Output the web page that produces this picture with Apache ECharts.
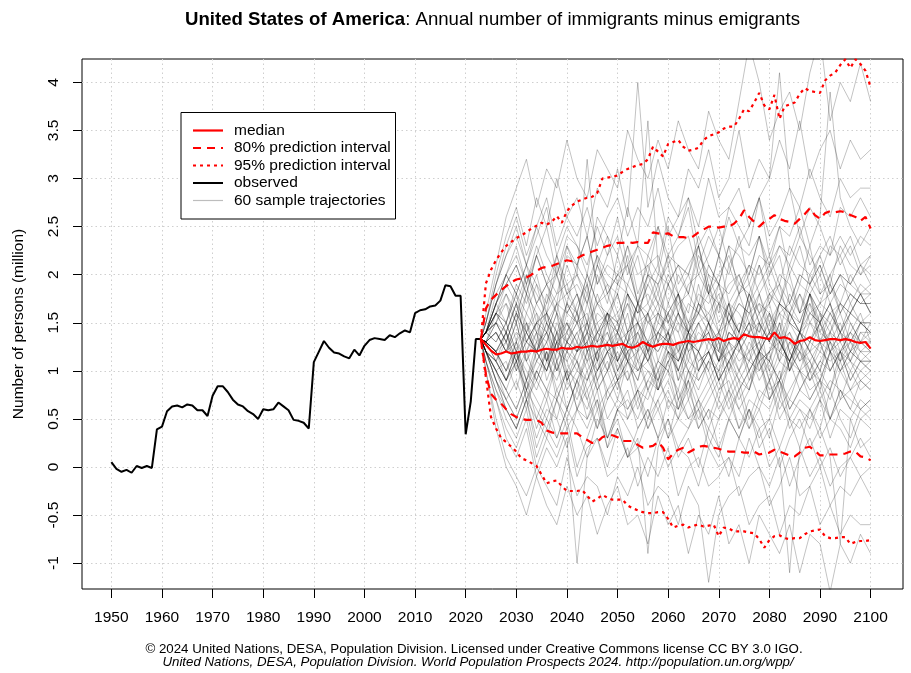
<!DOCTYPE html>
<html><head><meta charset="utf-8">
<script src="https://cdn.jsdelivr.net/npm/echarts@6/dist/echarts.min.js"></script>
<style>html,body{margin:0;padding:0;background:#fff}#c{width:911px;height:673px}</style>
</head><body><div id="c"></div>
<script>
// ---------- data ----------
const obsStartYear = 1950;
const observed = [0.05,-0.02,-0.05,-0.03,-0.06,0.01,-0.01,0.01,-0.01,0.39,
0.42,0.58,0.63,0.64,0.62,0.65,0.64,0.59,0.59,0.53,
0.74,0.84,0.84,0.78,0.70,0.65,0.63,0.58,0.55,0.50,
0.60,0.59,0.60,0.67,0.63,0.59,0.49,0.48,0.46,0.40,
1.09,1.20,1.31,1.24,1.19,1.18,1.15,1.13,1.22,1.16,
1.26,1.32,1.34,1.33,1.32,1.37,1.35,1.39,1.42,1.40,
1.60,1.63,1.64,1.67,1.68,1.73,1.89,1.88,1.78,1.78,
0.34,0.68,1.33,1.33];

const projStartYear = 2023;
const median = [1.33,1.27,1.21,1.17,1.18,1.20,1.18,1.19,1.20,1.20,
1.21,1.20,1.22,1.23,1.22,1.22,1.24,1.23,1.23,1.25,
1.24,1.25,1.26,1.25,1.26,1.27,1.26,1.27,1.28,1.25,
1.24,1.26,1.30,1.27,1.25,1.27,1.28,1.28,1.27,1.29,
1.30,1.31,1.30,1.31,1.32,1.33,1.32,1.34,1.31,1.33,
1.34,1.33,1.38,1.36,1.35,1.35,1.34,1.33,1.40,1.34,
1.35,1.33,1.28,1.31,1.32,1.35,1.32,1.31,1.32,1.33,
1.33,1.32,1.33,1.32,1.30,1.29,1.30,1.23];
const upper80 = [1.33,1.65,1.74,1.79,1.84,1.88,1.92,1.95,1.96,1.97,
2.00,2.04,2.07,2.08,2.09,2.11,2.13,2.15,2.14,2.17,
2.20,2.22,2.24,2.26,2.28,2.30,2.31,2.33,2.33,2.34,
2.33,2.34,2.33,2.33,2.44,2.43,2.42,2.43,2.40,2.39,
2.39,2.38,2.40,2.44,2.47,2.50,2.50,2.49,2.50,2.50,
2.53,2.58,2.67,2.60,2.55,2.50,2.55,2.58,2.62,2.58,
2.56,2.55,2.53,2.58,2.63,2.69,2.62,2.58,2.64,2.66,
2.65,2.66,2.65,2.62,2.60,2.56,2.60,2.48];
const lower80 = [1.33,0.96,0.76,0.70,0.66,0.60,0.55,0.52,0.50,0.49,
0.49,0.49,0.46,0.38,0.36,0.35,0.35,0.35,0.35,0.35,
0.31,0.28,0.25,0.26,0.31,0.33,0.33,0.31,0.27,0.27,
0.27,0.23,0.20,0.21,0.22,0.26,0.20,0.08,0.14,0.18,
0.20,0.15,0.18,0.21,0.22,0.21,0.20,0.19,0.17,0.16,
0.16,0.16,0.15,0.15,0.16,0.13,0.14,0.15,0.18,0.16,
0.14,0.12,0.11,0.15,0.20,0.21,0.17,0.12,0.12,0.13,
0.13,0.13,0.14,0.16,0.16,0.11,0.10,0.07];
const upper95 = [1.33,1.91,2.05,2.15,2.23,2.30,2.34,2.38,2.41,2.44,
2.48,2.51,2.54,2.52,2.55,2.61,2.54,2.66,2.72,2.76,
2.78,2.80,2.81,2.85,3.00,3.01,3.02,3.03,3.07,3.10,
3.12,3.14,3.15,3.20,3.33,3.28,3.23,3.36,3.38,3.40,
3.33,3.29,3.30,3.32,3.40,3.44,3.46,3.48,3.52,3.54,
3.54,3.62,3.72,3.70,3.79,3.89,3.76,3.72,3.87,3.62,
3.75,3.77,3.79,3.88,3.94,3.91,3.90,3.89,4.02,4.07,
4.10,4.18,4.24,4.15,4.24,4.19,4.12,3.95];
const lower95 = [1.33,0.93,0.52,0.40,0.30,0.26,0.21,0.16,0.09,0.07,
0.04,0.01,-0.08,-0.17,-0.15,-0.14,-0.20,-0.25,-0.25,-0.25,
-0.24,-0.30,-0.36,-0.33,-0.29,-0.32,-0.34,-0.34,-0.34,-0.40,
-0.43,-0.45,-0.47,-0.48,-0.48,-0.47,-0.47,-0.54,-0.63,-0.61,
-0.60,-0.63,-0.61,-0.60,-0.62,-0.61,-0.60,-0.72,-0.63,-0.64,
-0.67,-0.67,-0.67,-0.68,-0.69,-0.75,-0.84,-0.76,-0.72,-0.71,
-0.74,-0.75,-0.74,-0.74,-0.70,-0.67,-0.66,-0.65,-0.72,-0.74,
-0.74,-0.73,-0.73,-0.80,-0.78,-0.77,-0.77,-0.76];

// sample trajectories (estimated), every 2nd year, in units of 0.1 million
const trajYears = [2024,2026,2028,2030,2032,2034,2036,2038,2040,2042,2044,2046,2048,2050,2052,2054,2056,2058,2060,2062,2064,2066,2068,2070,2072,2074,2076,2078,2080,2082,2084,2086,2088,2090,2092,2094,2096,2098,2100];
const trajectoriesTenths = [
[13,12,14,10,15,11,13,16,9,12,14,11,15,10,13,12,16,11,14,9,13,15,12,10,14,13,17,11,12,15,10,14,13,16,12,11,15,13,14],
[14,15,17,13,18,14,16,12,17,15,19,13,16,14,18,12,15,17,13,16,14,19,15,12,16,14,17,13,15,11,16,14,18,13,15,12,14,16,13],
[12,11,9,12,7,10,8,11,6,9,12,8,10,7,11,9,13,8,10,6,9,12,10,7,11,9,8,12,10,7,11,13,9,10,8,12,9,11,10],
[14,16,18,15,20,17,19,16,21,18,15,20,17,22,18,16,19,21,17,20,18,23,19,16,21,18,20,24,19,17,21,19,23,18,20,22,19,21,20],
[12,9,7,5,8,4,7,3,6,9,5,7,2,6,8,4,6,3,7,5,9,4,6,2,5,8,4,6,3,7,5,2,6,4,8,5,3,6,5],
[13,14,12,15,11,14,13,16,12,14,15,11,16,13,14,17,12,15,14,16,13,17,15,12,16,14,18,15,13,17,16,14,18,15,17,13,16,18,16],
[13,12,10,13,9,12,10,14,11,8,12,10,13,9,11,12,8,11,10,13,7,10,12,9,11,8,10,12,7,9,11,8,10,9,12,7,10,8,9],
[14,17,19,21,18,22,19,17,23,20,32,21,24,19,21,17,22,20,25,19,21,23,18,22,20,24,19,22,21,25,20,23,19,22,24,21,23,20,22],
[11,8,5,3,6,1,4,2,5,0,3,6,2,4,1,3,-9,2,5,1,3,0,4,2,-1,3,1,4,0,2,-2,1,3,0,2,-1,1,3,1],
[14,13,15,12,16,14,11,15,13,16,12,14,15,11,13,14,12,16,13,11,14,12,15,13,10,14,12,13,11,15,12,10,13,12,14,11,13,12,12],
[13,15,14,17,15,13,18,16,14,17,19,15,16,18,14,17,16,19,15,17,18,16,20,17,15,18,19,16,18,17,20,16,19,17,18,20,17,19,18],
[12,10,8,11,7,9,12,8,10,6,9,11,8,10,12,7,9,11,10,8,12,9,11,13,8,10,12,9,11,14,10,12,9,11,13,10,12,11,11],
[15,19,22,25,21,24,27,22,25,23,20,26,24,22,27,23,36,21,26,24,28,23,25,22,27,25,23,28,24,26,29,24,27,25,22,27,26,28,26],
[13,11,14,12,9,13,11,14,10,12,13,9,12,11,14,10,12,8,11,13,10,12,9,11,13,10,8,12,11,9,12,10,11,8,12,10,11,9,10],
[13,12,9,11,8,12,10,13,9,11,7,10,12,9,13,11,10,8,12,11,14,10,12,9,13,11,12,15,10,13,11,14,12,10,14,13,11,14,13],
[14,15,18,16,19,15,17,20,16,18,14,17,19,16,18,15,20,17,16,18,14,17,15,19,16,14,18,15,17,13,16,15,18,14,16,17,15,13,15],
[12,9,6,4,7,3,6,5,2,6,4,7,3,5,1,4,6,3,5,2,4,7,3,1,5,3,6,2,4,0,3,5,2,4,1,-8,5,2,3],
[14,13,15,12,14,16,11,13,15,12,14,13,16,11,14,15,12,13,16,14,11,15,13,14,17,12,14,15,13,16,12,14,15,13,16,14,12,15,14],
[14,18,20,23,19,22,25,20,23,21,24,19,22,26,21,23,20,25,22,24,27,21,24,22,26,23,25,28,22,25,24,27,23,26,39,28,25,23,25],
[12,10,8,6,9,5,8,7,10,6,8,4,7,9,6,8,5,9,7,6,10,7,5,8,9,6,8,11,7,9,6,8,10,7,9,8,6,9,8],
[13,16,14,17,13,15,16,12,16,15,18,14,16,15,17,13,16,18,15,14,17,16,19,15,17,14,18,16,17,19,15,18,16,17,20,16,18,17,17],
[11,7,3,1,4,-1,2,0,3,-10,1,3,-1,0,2,-2,1,-1,2,-3,0,1,-2,-1,1,-3,-1,0,-4,-2,1,-3,-2,0,-4,-2,-3,-1,-3],
[14,17,20,18,21,17,19,22,18,20,17,21,19,18,22,17,20,19,21,16,19,20,18,22,17,19,18,21,17,20,19,16,20,18,19,17,20,18,18],
[13,11,13,10,12,14,9,12,11,13,10,12,14,11,9,12,13,10,12,11,14,10,13,12,11,13,9,12,14,11,13,12,10,13,12,14,11,13,12],
[14,15,13,16,12,15,14,17,13,15,16,12,15,14,17,15,13,16,15,18,14,16,15,13,17,16,14,18,15,17,16,14,18,16,15,17,16,18,16],
[12,10,11,8,12,9,7,11,8,10,9,12,7,9,10,6,9,8,11,7,9,6,8,10,7,9,5,8,7,10,6,8,7,9,5,8,7,6,7],
[15,20,24,27,23,28,25,30,26,28,24,29,27,31,26,40,27,32,28,26,31,29,33,28,30,35,29,32,30,34,31,36,30,33,35,31,34,32,33],
[13,12,14,11,13,12,15,11,14,12,13,15,12,14,11,15,13,14,16,12,14,13,15,17,13,15,14,16,13,17,15,14,16,15,17,14,16,15,15],
[11,8,6,4,7,2,5,3,6,4,1,5,3,6,4,2,5,7,3,5,4,6,2,5,7,4,6,3,5,8,4,6,5,7,3,6,5,7,6],
[14,16,15,18,14,17,15,13,17,16,14,18,15,16,13,17,15,14,16,18,13,15,16,14,17,13,15,14,16,12,15,14,17,13,14,16,13,15,14],
[13,14,12,15,11,13,14,12,15,13,11,14,12,13,16,11,13,12,14,10,13,12,15,11,13,12,14,10,12,13,11,14,12,13,10,12,13,11,12],
[14,17,20,22,19,23,20,18,22,21,24,19,21,20,23,18,21,22,19,21,20,23,18,20,22,19,21,18,20,22,17,20,19,21,18,20,19,21,19],
[12,10,7,9,6,10,8,5,9,7,10,6,8,9,5,8,7,10,6,8,5,7,9,6,8,4,7,6,9,5,7,6,4,7,5,8,6,5,6],
[14,16,19,17,20,18,16,21,18,19,17,21,18,20,19,22,17,20,19,21,18,22,20,19,23,18,21,20,22,19,23,21,20,22,19,23,21,20,21],
[10,5,1,-1,-3,0,-2,-4,1,-3,-1,-2,-5,-1,-3,0,-4,-2,-3,-6,-2,-4,-12,-5,-3,-2,-6,-4,-3,-7,-4,-5,-2,-6,-4,-7,-5,-6,-6],
[13,15,13,16,14,12,15,13,14,16,12,14,13,15,11,14,16,13,14,12,15,13,14,11,14,13,15,12,14,13,11,14,12,15,13,12,14,13,13],
[12,11,9,12,10,8,11,9,12,10,13,9,11,8,12,10,11,9,13,10,8,11,12,9,11,13,10,12,9,11,10,13,11,9,12,10,12,11,11],
[15,19,22,24,21,25,22,20,24,23,21,25,22,24,20,23,22,25,21,23,24,20,22,25,21,23,22,24,20,23,21,24,22,20,23,22,24,21,22],
[12,9,7,5,8,6,4,7,5,8,6,9,5,7,6,8,4,7,9,6,8,5,7,9,6,8,10,7,9,6,8,10,7,9,8,11,8,10,9],
[14,16,14,17,13,15,16,14,17,15,13,16,15,18,14,15,16,13,17,15,14,16,18,14,15,13,16,17,14,16,15,13,16,15,17,14,16,15,15],
[13,12,13,11,14,12,10,13,12,14,11,12,13,10,12,14,11,13,12,10,13,11,12,14,10,12,11,13,9,12,11,13,10,12,11,12,10,12,11],
[16,21,26,29,32,27,31,29,34,30,28,33,31,29,35,32,30,34,31,36,33,31,37,34,32,38,44,40,34,37,39,35,41,45,36,40,38,42,38],
[13,12,10,12,9,11,13,10,12,11,14,10,12,13,11,9,13,12,14,11,13,12,10,14,12,13,11,15,13,12,14,11,13,15,12,14,13,15,14],
[11,7,4,2,5,0,3,1,4,-1,2,3,0,4,1,2,-1,3,0,2,1,-2,2,0,1,-1,3,0,-2,1,-11,2,-1,1,-2,0,1,-1,0],
[14,16,15,18,16,19,15,17,18,16,20,17,15,19,18,16,19,17,20,18,16,21,18,17,19,20,17,21,18,19,17,20,19,21,18,20,19,18,19],
[13,14,12,13,15,12,14,11,13,15,12,13,10,14,12,13,11,14,12,10,13,12,14,11,12,10,13,11,12,14,10,12,11,13,10,12,11,10,11],
[12,11,9,11,8,10,12,7,10,9,11,8,10,12,9,11,8,10,13,9,11,10,12,9,11,13,10,12,11,9,13,11,12,10,13,11,12,13,12],
[14,17,20,18,21,19,17,22,19,20,18,22,20,19,23,20,21,18,22,21,20,24,21,19,23,22,20,24,21,23,22,25,21,23,22,24,22,24,23],
[12,10,8,6,9,7,5,8,6,9,7,4,8,6,7,5,8,6,3,7,5,6,4,7,5,3,6,4,5,2,5,4,6,3,5,4,2,5,4],
[14,16,17,15,18,16,14,17,16,18,15,17,16,14,18,16,17,15,19,16,14,17,16,18,15,17,16,14,18,16,17,15,18,16,14,17,16,18,16],
[13,12,14,11,13,12,14,10,13,12,15,11,13,14,12,13,11,14,13,15,12,14,13,11,15,13,14,12,16,13,14,12,15,14,13,15,12,14,14],
[10,4,0,-2,-5,-1,-4,-6,-2,-5,-3,-7,-4,-2,-6,-5,-8,-3,-6,-4,-9,-5,-7,-3,-8,-6,-10,-5,-7,-9,-6,-11,-7,-8,-13,-8,-10,-7,-9],
[14,17,19,21,18,22,19,20,17,21,19,22,18,20,21,17,20,19,22,18,20,17,21,19,18,20,17,19,21,18,16,19,18,20,17,19,18,17,18],
[12,11,9,12,8,11,10,13,9,11,8,10,12,9,11,8,10,9,12,7,10,9,11,8,10,7,9,11,8,9,7,10,8,9,7,10,8,9,8],
[14,15,13,16,14,12,16,14,15,13,17,14,16,15,13,17,15,16,14,18,15,16,14,17,16,18,15,17,16,14,18,16,17,15,19,16,18,17,17],
[12,9,6,4,7,5,3,7,4,6,5,8,3,6,5,7,4,6,8,5,7,4,6,5,8,6,4,7,6,9,5,7,6,8,5,7,8,6,7],
[15,19,23,26,22,25,28,23,26,24,27,23,26,28,24,27,25,29,24,26,28,25,30,26,27,29,25,28,30,41,29,27,31,28,26,30,28,29,29],
[13,12,10,13,11,9,12,10,13,11,9,12,10,13,11,10,12,9,11,12,10,8,11,10,12,9,11,10,12,8,11,10,9,11,10,12,9,11,10],
[14,17,15,19,17,20,16,18,19,16,20,17,18,15,19,17,18,16,19,17,15,18,17,19,15,17,16,18,14,17,16,18,15,17,16,14,17,15,16],
[13,14,12,14,13,15,11,14,13,12,15,13,14,11,13,15,12,14,13,16,12,13,14,11,14,13,15,12,14,13,11,14,13,15,12,13,14,12,13]
];

const xTicks = [1950,1960,1970,1980,1990,2000,2010,2020,2030,2040,2050,2060,2070,2080,2090,2100];
const yTicks = [-1,-0.5,0,0.5,1,1.5,2,2.5,3,3.5,4];
const titleBold = 'United States of America';
const titleRest = ': Annual number of immigrants minus emigrants';
const yName = 'Number of persons (million)';
const footer1 = '\u00A9 2024 United Nations, DESA, Population Division. Licensed under Creative Commons license CC BY 3.0 IGO.';
const footer2 = 'United Nations, DESA, Population Division. World Population Prospects 2024. http://population.un.org/wpp/';
const legendLabels = ['median','80% prediction interval','95% prediction interval','observed','60 sample trajectories'];

// ---------- chart ----------
const FONT = '"Liberation Sans", Arial, Helvetica, sans-serif';
const FS = 15.5;
const RED = '#ff0000';
const yearly = (start, arr) => arr.map((v, i) => [start + i, v]);

const series = [];
const last = observed[observed.length - 1];
trajectoriesTenths.forEach(tr => {
  const data = [[projStartYear, last]];
  const n = Math.min(tr.length, trajYears.length);
  for (let i = 0; i < n; i++) data.push([trajYears[i], tr[i] / 10]);
  series.push({type:'line', name:'60 sample trajectories', data, symbol:'none', silent:true,
    lineStyle:{color:'rgba(0,0,0,0.3)', width:0.8}, z:1});
});
series.push({type:'line', name:'observed', data: yearly(obsStartYear, observed), symbol:'none',
  lineStyle:{color:'#000', width:2}, z:3});
const redLine = (name, arr, type) => ({type:'line', name, data: yearly(projStartYear, arr), symbol:'none',
  lineStyle:{color:RED, width:2.2, type}, z:4});
series.push(redLine('95% upper', upper95, [3,4]));
series.push(redLine('95% lower', lower95, [3,4]));
series.push(redLine('80% upper', upper80, [8,6]));
series.push(redLine('80% lower', lower80, [8,6]));
series.push(redLine('median', median, 'solid'));

const gridStyle = {show:true, lineStyle:{color:'#cfcfcf', type:[1.5,3], width:1}};

// legend drawn as graphic
const LX = 181, LY = 112.5, LW = 214.5, LH = 106.5;
const rowY = [130.5, 148, 165.5, 183, 200.5];
const legendStyles = [
  {stroke:RED, lineWidth:2.2},
  {stroke:RED, lineWidth:2.2, lineDash:[8,6]},
  {stroke:RED, lineWidth:2.2, lineDash:[3,4]},
  {stroke:'#000', lineWidth:2},
  {stroke:'#bdbdbd', lineWidth:1.2}
];
const legendEls = [{type:'rect', shape:{x:LX, y:LY, width:LW, height:LH},
  style:{fill:'#fff', stroke:'#000', lineWidth:1}, z:100}];
legendLabels.forEach((lab, i) => {
  legendEls.push({type:'line', shape:{x1:193, y1:rowY[i], x2:223, y2:rowY[i]}, style:legendStyles[i], z:101});
  legendEls.push({type:'text', x:234, y:rowY[i], z:101,
    style:{text:lab, font:FS + 'px ' + FONT, fill:'#000', verticalAlign:'middle', align:'left',
      width: LX + LW - 234 - 1, overflow:'truncate', ellipsis:''}});
});

const chart = echarts.init(document.getElementById('c'), null, {renderer:'canvas'});
chart.setOption({
  animation:false,
  backgroundColor:'#fff',
  grid:{left:82, right:8, top:59, bottom:84, show:true, borderColor:'#000', borderWidth:1, backgroundColor:'transparent'},
  xAxis:{type:'value', min:1944.2, max:2106.4,
    axisLine:{show:false, onZero:false},
    axisTick:{show:true, customValues:xTicks, length:9, lineStyle:{color:'#000'}},
    axisLabel:{customValues:xTicks, fontSize:FS, fontFamily:FONT, color:'#000', margin:21,
      formatter: v => String(v)},
    splitLine:gridStyle},
  yAxis:{type:'value', min:-1.269, max:4.243,
    axisLine:{show:false, onZero:false},
    axisTick:{show:true, customValues:yTicks, length:9, lineStyle:{color:'#000'}},
    axisLabel:{customValues:yTicks, fontSize:FS, fontFamily:FONT, color:'#000', margin:20, rotate:90,
      formatter: v => String(v)},
    splitLine:gridStyle,
    name:yName, nameLocation:'middle', nameGap:55,
    nameTextStyle:{fontSize:FS, fontFamily:FONT, color:'#000'}},
  series,
  graphic:[
    {type:'text', x:492.5, y:20, style:{
      text:'{b|' + titleBold + '}' + titleRest,
      font:'18.6px ' + FONT, fill:'#000', align:'center', verticalAlign:'middle',
      rich:{b:{fontWeight:'bold', fontSize:18.6, fontFamily:FONT, fill:'#000'}}}},
    {type:'text', x:474, y:649, style:{text:footer1, font:'13.3px ' + FONT, fill:'#000', align:'center', verticalAlign:'middle'}},
    {type:'text', x:478, y:662, style:{text:footer2, font:'italic 13.3px ' + FONT, fill:'#000', align:'center', verticalAlign:'middle'}},
    ...legendEls
  ]
});
</script>
</body></html>
